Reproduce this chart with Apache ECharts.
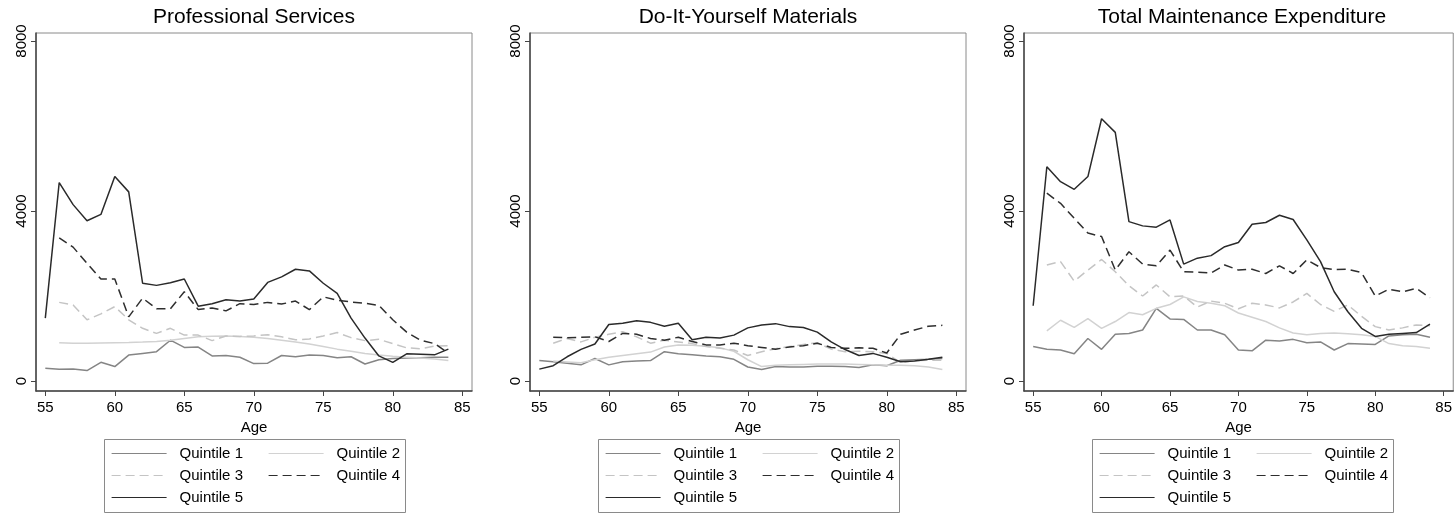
<!DOCTYPE html>
<html>
<head>
<meta charset="utf-8">
<script src="https://cdn.jsdelivr.net/npm/echarts@6/dist/echarts.min.js"></script>
<style>
html,body{margin:0;padding:0;background:#fff;}
#chart{width:1455px;height:513px;}
</style>
</head>
<body>
<div id="chart"></div>
<script>
// ---------- DATA ----------
const ages = [55,56,57,58,59,60,61,62,63,64,65,66,67,68,69,70,71,72,73,74,75,76,77,78,79,80,81,82,83,84];
const xTicks = [55,60,65,70,75,80,85];
const yTicks = [0,4000,8000];
const panelTitles = ['Professional Services','Do-It-Yourself Materials','Total Maintenance Expenditure'];
const seriesNames = ['Quintile 1','Quintile 2','Quintile 3','Quintile 4','Quintile 5'];

// Professional Services
const profQ1 = [300,275,280,245,440,340,610,650,690,960,790,800,590,600,560,410,420,600,570,610,600,550,570,400,500,530,540,550,560,560];
const profQ2 = [null,900,890,890,895,900,905,915,930,960,1000,1040,1055,1060,1050,1030,1000,960,920,870,810,750,700,650,610,580,560,540,520,480];
const profQ3 = [null,1850,1790,1440,1580,1750,1440,1240,1120,1240,1080,1080,950,1060,1050,1060,1090,1040,970,990,1060,1140,1020,950,980,880,780,760,820,830];
const profQ4 = [null,3370,3150,2770,2400,2400,1510,1950,1700,1700,2100,1680,1720,1650,1820,1800,1850,1810,1880,1680,1980,1900,1860,1830,1780,1440,1150,960,880,660];
const profQ5 = [1480,4670,4150,3770,3920,4810,4450,2300,2250,2310,2400,1760,1820,1910,1880,1930,2320,2450,2630,2590,2300,2060,1480,1010,590,440,640,630,615,750];

// Do-It-Yourself Materials
const diyQ1 = [480,455,420,380,530,380,455,470,480,690,640,615,590,570,510,330,270,340,330,330,350,350,340,320,380,360,490,500,510,530];
const diyQ2 = [null,470,450,430,500,560,600,640,680,800,850,840,820,780,700,500,340,370,380,390,400,400,400,390,380,370,370,360,330,270];
const diyQ3 = [null,890,1000,920,1030,1100,1160,1040,890,960,920,880,810,770,730,600,690,760,810,860,900,750,690,700,690,650,430,480,490,490];
const diyQ4 = [null,1030,1020,1030,1040,930,1120,1100,1000,960,1030,930,850,850,890,830,790,750,800,830,890,790,770,780,770,660,1100,1200,1290,1310];
const diyQ5 = [280,360,570,745,870,1330,1360,1420,1380,1290,1360,970,1030,1010,1080,1250,1320,1350,1280,1260,1150,920,740,600,650,560,455,470,510,560];

// Total Maintenance Expenditure
const totQ1 = [810,745,730,640,1000,745,1100,1120,1200,1710,1460,1450,1200,1200,1090,730,710,960,940,980,900,920,730,880,870,860,1060,1090,1100,1030];
const totQ2 = [null,1180,1430,1260,1470,1240,1400,1610,1560,1710,1800,1980,1870,1830,1770,1600,1500,1400,1250,1130,1090,1120,1130,1110,1090,1050,880,830,810,770];
const totQ3 = [null,2730,2810,2350,2610,2860,2570,2240,2000,2260,1980,2000,1740,1880,1830,1700,1830,1790,1720,1860,2060,1800,1640,1790,1520,1280,1200,1250,1320,1300];
const totQ4 = [null,4420,4180,3830,3480,3400,2610,3040,2750,2710,3080,2570,2560,2540,2730,2610,2630,2530,2710,2530,2850,2670,2620,2630,2550,2000,2160,2100,2180,1960];
const totQ5 = [1770,5040,4690,4510,4810,6170,5850,3750,3650,3620,3790,2750,2890,2950,3160,3260,3690,3730,3900,3800,3320,2810,2100,1630,1240,1050,1100,1120,1140,1340];

const panelData = [
  [profQ1, profQ2, profQ3, profQ4, profQ5],
  [diyQ1, diyQ2, diyQ3, diyQ4, diyQ5],
  [totQ1, totQ2, totQ3, totQ4, totQ5]
];

// ---------- STYLE ----------
const FONT = 'Liberation Sans, Arial, Helvetica, sans-serif';
const lineStyles = [
  {color:'#858585', width:1.5, type:'solid'},
  {color:'#d2d2d2', width:1.5, type:'solid'},
  {color:'#c4c4c4', width:1.5, type:[9,5]},
  {color:'#2e2e2e', width:1.5, type:[9,5]},
  {color:'#2a2a2a', width:1.5, type:'solid'}
];
const gridLefts = [36, 530, 1024];
const gridWidth = 436;
const gridTop = 33, gridHeight = 358;

const grids = [], xAxes = [], yAxes = [], series = [], titles = [], legends = [], graphics = [];
for (let p = 0; p < 3; p++) {
  const cx = gridLefts[p] + gridWidth / 2;
  grids.push({left: gridLefts[p], top: gridTop, width: gridWidth, height: gridHeight,
    show: true, borderColor: '#8a8a8a', borderWidth: 1, backgroundColor: '#fff'});
  titles.push({text: panelTitles[p], left: cx, top: 7, textAlign: 'center', padding: 0,
    textStyle: {fontSize: 21, fontWeight: 'normal', color: '#000', fontFamily: FONT}});
  xAxes.push({type: 'value', gridIndex: p, min: 54.33, max: 85.7,
    name: 'Age', nameLocation: 'middle', nameGap: 24,
    nameTextStyle: {fontSize: 15, color: '#000', fontFamily: FONT},
    axisLine: {show: true, onZero: false, lineStyle: {color: '#444', width: 1.5}},
    axisTick: {show: true, customValues: xTicks, length: 5, lineStyle: {color: '#444', width: 1}},
    axisLabel: {customValues: xTicks, fontSize: 15, color: '#000', margin: 9, fontFamily: FONT,
      formatter: v => String(v)},
    splitLine: {show: false}});
  yAxes.push({type: 'value', gridIndex: p, min: -235, max: 8188,
    axisLine: {show: true, onZero: false, lineStyle: {color: '#444', width: 1.5}},
    axisTick: {show: true, customValues: yTicks, length: 5, lineStyle: {color: '#444', width: 1}},
    axisLabel: {customValues: yTicks, rotate: 90, fontSize: 15, color: '#000', margin: 7, fontFamily: FONT,
      formatter: v => String(v)},
    splitLine: {show: false}});
  for (let s = 0; s < 5; s++) {
    const vals = panelData[p][s];
    const pts = [];
    ages.forEach((a, i) => { if (vals[i] !== null) pts.push([a, vals[i]]); });
    series.push({type: 'line', name: seriesNames[s], xAxisIndex: p, yAxisIndex: p,
      data: pts, symbol: 'none', showSymbol: false, z: 3 + (s === 4 ? 2 : s === 3 ? 1 : 0),
      color: lineStyles[s].color, itemStyle: {color: lineStyles[s].color},
      lineStyle: lineStyles[s], emphasis: {disabled: true}, animation: false});
  }
  const boxLeft = Math.round(cx - 150);
  graphics.push({type: 'rect', z: 0, silent: true,
    shape: {x: boxLeft + 0.5, y: 439.5, width: 301, height: 73},
    style: {fill: '#fff', stroke: '#8a8a8a', lineWidth: 1}});
  const legBase = {orient: 'vertical', top: 446, padding: 0, itemWidth: 55, itemHeight: 14, itemGap: 7,
    selectedMode: false,
    itemStyle: {opacity: 0, borderWidth: 0},
    lineStyle: {width: 1.2},
    textStyle: {fontSize: 15, color: '#000', fontFamily: FONT, padding: [0, 0, 0, 8]}};
  legends.push(Object.assign({}, legBase, {left: boxLeft + 7, data: ['Quintile 1','Quintile 3','Quintile 5']}));
  legends.push(Object.assign({}, legBase, {left: boxLeft + 164, data: ['Quintile 2','Quintile 4']}));
}

const chart = echarts.init(document.getElementById('chart'), null, {renderer: 'canvas'});
chart.setOption({
  animation: false,
  backgroundColor: '#fff',
  textStyle: {fontFamily: FONT},
  title: titles,
  grid: grids,
  xAxis: xAxes,
  yAxis: yAxes,
  legend: legends,
  graphic: graphics,
  series: series
});
</script>
</body>
</html>
